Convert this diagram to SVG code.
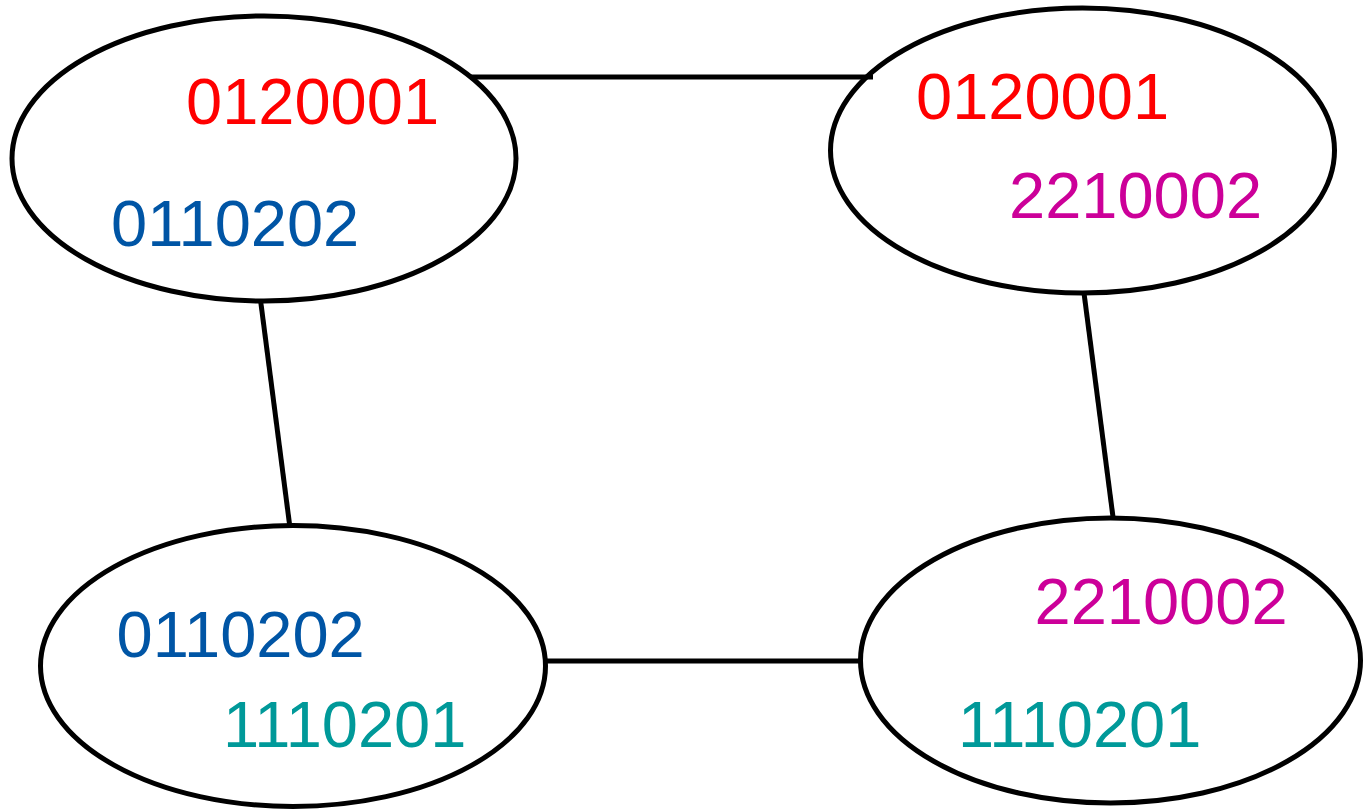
<svg xmlns="http://www.w3.org/2000/svg" width="1363" height="811" viewBox="0 0 1363 811">
<style>
.node{fill:none;stroke:#000;stroke-width:5}
.edge{stroke:#000;stroke-width:5;fill:none}
text{font-family:"Liberation Sans",Arial,sans-serif;font-size:65px}
.red{fill:#ff0000}.blue{fill:#0055a5}.mag{fill:#cc0099}.teal{fill:#009999}
</style>
<rect width="1363" height="811" fill="#fff"/>
<g id="node-tl">
<ellipse class="node" cx="264" cy="158.5" rx="252" ry="142.5"/>
<text class="red" x="186" y="124">0120001</text>
<text class="blue" x="111" y="246">0110202</text>
</g>
<g id="node-tr">
<ellipse class="node" cx="1082.5" cy="150.5" rx="252" ry="142.5"/>
<text class="red" x="916" y="118.5">0120001</text>
<text class="mag" x="1009" y="218">2210002</text>
</g>
<g id="node-bl">
<ellipse class="node" cx="293" cy="666" rx="252.5" ry="140.5"/>
<text class="blue" x="116.5" y="657">0110202</text>
<text class="teal" x="223" y="747">1110201</text>
</g>
<g id="node-br">
<ellipse class="node" cx="1110.5" cy="660.5" rx="250" ry="142.5"/>
<text class="mag" x="1034.5" y="624">2210002</text>
<text class="teal" x="958" y="747">1110201</text>
</g>
<g id="connectors">
<line class="edge" x1="470" y1="77" x2="873" y2="77"/>
<line class="edge" x1="260.5" y1="300" x2="289.5" y2="524"/>
<line class="edge" x1="1084" y1="293" x2="1113" y2="517"/>
<line class="edge" x1="545" y1="661" x2="860" y2="661"/>
</g>
</svg>
